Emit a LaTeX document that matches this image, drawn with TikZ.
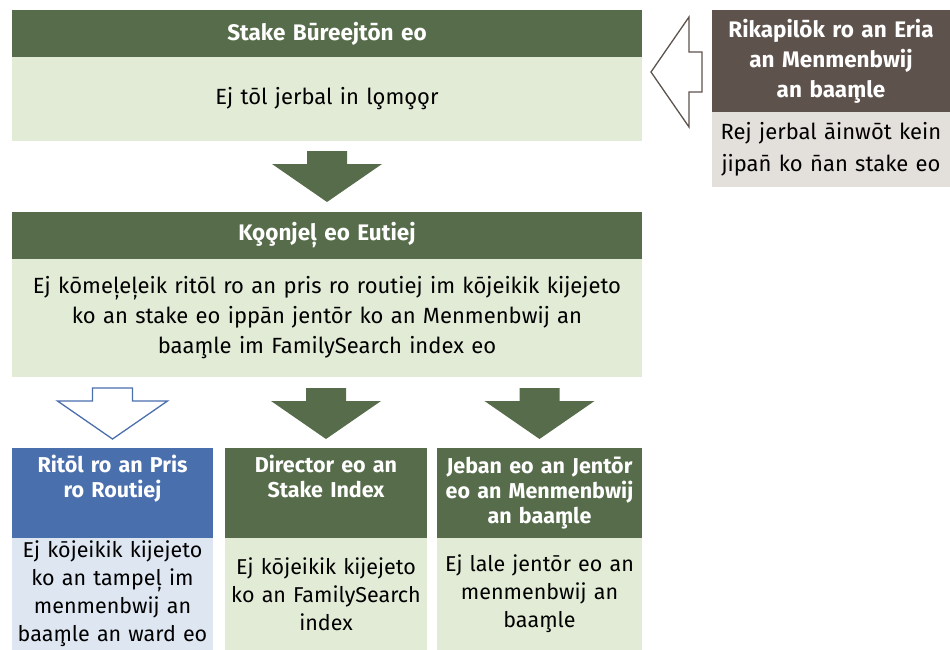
\documentclass[tikz,border=0pt]{standalone}
\usepackage{fontspec}
\setmainfont[WordSpace=0.85]{Fira Sans}
\usetikzlibrary{positioning,calc}

\definecolor{hdgreen}{RGB}{86,108,74}
\definecolor{bdgreen}{RGB}{226,235,213}
\definecolor{hdbrown}{RGB}{94,82,76}
\definecolor{bdgray}{RGB}{227,224,220}
\definecolor{hdblue}{RGB}{74,111,173}
\definecolor{bdblue}{RGB}{222,230,242}

\begin{document}
\begin{tikzpicture}[x=1pt,y=-1pt,
  hd/.style={fill=hdgreen,text=white,font=\bfseries\fontsize{22.5}{31}\selectfont,align=center,inner sep=0pt,outer sep=0pt},
  bd/.style={fill=bdgreen,text=black,font=\fontsize{22}{30}\selectfont,align=center,inner sep=0pt,outer sep=0pt},
  smallhd/.style={hd,font=\bfseries\fontsize{21.5}{25}\selectfont,minimum height=90,anchor=north west},
  smallbd/.style={bd,font=\fontsize{21.5}{28}\selectfont,minimum height=112},
  blockarr/.pic={\path[pic actions] (0,0) -- (-55,-38) -- (-20,-38) -- (-20,-51) -- (20,-51) -- (20,-38) -- (55,-38) -- cycle;}
]
\useasboundingbox (0,0) rectangle (950,650);

%stake council
\node[hd,anchor=north west,minimum width=630,minimum height=47,text width=620] (tophd) at (12,10) {Stake Būreejtōn eo};
\node[bd,below=0pt of tophd,minimum width=630,minimum height=84,text width=620] (topbd) {Ej tōl jerbal in lo̧mo̧o̧r};

%area family history adviser
\node[hd,fill=hdbrown,anchor=north west,minimum width=238,minimum height=102,text width=238,font=\bfseries\fontsize{22.5}{30}\selectfont] (fhchd) at (712,10) {Rikapilōk ro an Eria\\an Menmenbwij\\an baam̧le};
\node[bd,fill=bdgray,below=0pt of fhchd,minimum width=238,minimum height=75,text width=238,font=\fontsize{22}{32}\selectfont] (fhcbd) {Rej jerbal āinwōt kein\\jipan̄ ko n̄an stake eo};
\pic[draw=hdbrown,fill=white,line width=1.3pt,rotate=-90] at ($(fhchd.west)+(-61,11)$) {blockarr};

%high council
\pic[fill=hdgreen] at ($(tophd.north)+(0,192)$) {blockarr};
\node[hd,anchor=north west,minimum width=630,minimum height=47,text width=620] (midhd) at (12,212) {Ko̧o̧njeļ eo Eutiej};
\node[bd,below=0pt of midhd,minimum width=630,minimum height=118,text width=626] (midbd) {Ej kōmeļeļeik ritōl ro an pris ro routiej im kōjeikik kijejeto\\ko an stake eo ippān jentōr ko an Menmenbwij an\\baam̧le im FamilySearch index eo};

%bottom row
\node[smallhd,fill=hdblue,minimum width=201,text width=201] (leadhd) at (12,448) {Ritōl ro an Pris\\ro Routiej\\\strut};
\node[smallbd,fill=bdblue,below=0pt of leadhd,minimum width=201,text width=201] (leadbd) {Ej kōjeikik kijejeto\\ko an tampeļ im\\menmenbwij an\\baam̧le an ward eo};

\node[smallhd,right=12pt of leadhd,minimum width=202,text width=202] (dirhd) {Director eo an\\Stake Index\\\strut};
\node[smallbd,below=0pt of dirhd,minimum width=202,text width=202] (dirbd) {Ej kōjeikik kijejeto\\ko an FamilySearch\\index};

\node[smallhd,right=10pt of dirhd,minimum width=205,text width=205] (famhd) {Jeban eo an Jentōr\\eo an Menmenbwij\\an baam̧le};
\node[smallbd,below=0pt of famhd,minimum width=205,text width=205] (fambd) {Ej lale jentōr eo an\\menmenbwij an\\baam̧le};

%arrows to the bottom row
\pic[draw=hdblue,fill=white,line width=1.3pt] at ($(leadhd.north)+(0,-9)$) {blockarr};
\pic[fill=hdgreen] at ($(dirhd.north)+(0,-9)$) {blockarr};
\pic[fill=hdgreen] at ($(famhd.north)+(0,-9)$) {blockarr};

\end{tikzpicture}
\end{document}
